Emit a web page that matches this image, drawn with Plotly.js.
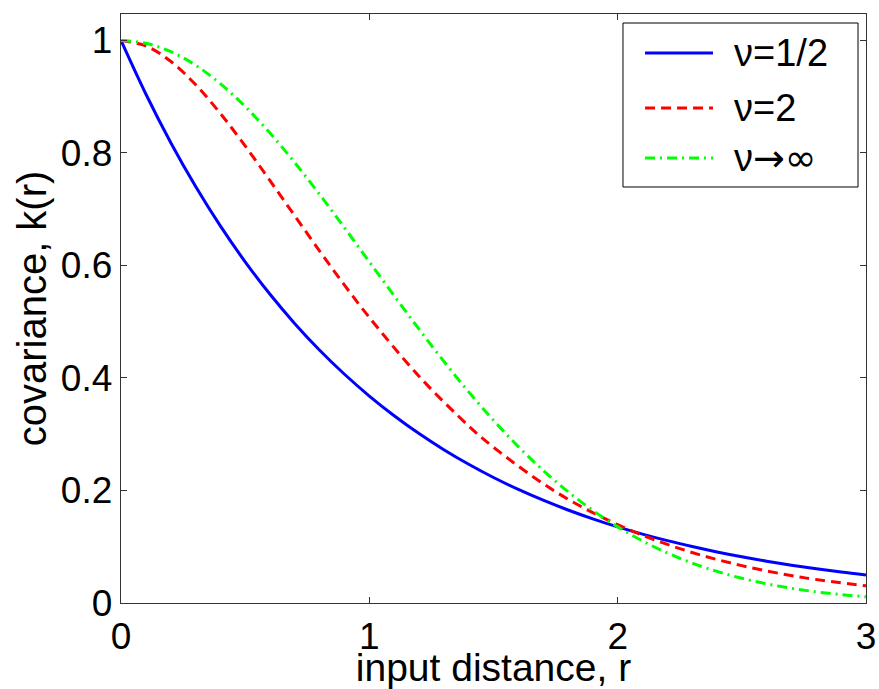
<!DOCTYPE html>
<html>
<head>
<meta charset="utf-8">
<script src="https://cdn.plot.ly/plotly-3.0.1.min.js"></script>
<style>html,body{margin:0;padding:0;background:#fff;}#chart{width:879px;height:689px;}</style>
</head>
<body>
<div id="chart"></div>
<script>
// distances r
var rFine = [0,0.1,0.2,0.3,0.4,0.5,0.6,0.7,0.8,0.9,1.0,1.1,1.2,1.3,1.4,1.5,1.6,1.7,1.8,1.9,2.0,2.1,2.2,2.3,2.4,2.5,2.6,2.7,2.8,2.9,3.0];
// nu = 1/2
var kHalf = [1,0.9048,0.8187,0.7408,0.6703,0.6065,0.5488,0.4966,0.4493,0.4066,0.3679,0.3329,0.3012,0.2725,0.2466,0.2231,0.2019,0.1827,0.1653,0.1496,0.1353,0.1225,0.1108,0.1003,0.0907,0.0821,0.0743,0.0672,0.0608,0.0550,0.0498];
// nu = 2
var rTwo = [0,0.1,0.2,0.3,0.4,0.5,0.6,0.7,0.8,0.9,1.0,1.2,1.4,1.5,1.75,2.0,2.25,2.5,2.75,3.0];
var kTwo = [1,0.9903,0.9629,0.9216,0.8703,0.8124,0.7508,0.6880,0.6256,0.5650,0.5076,0.4031,0.3148,0.2768,0.1978,0.1392,0.0967,0.0664,0.0451,0.0305];
// nu -> infinity
var kInf = [1,0.9950,0.9802,0.9560,0.9231,0.8825,0.8353,0.7827,0.7261,0.6670,0.6065,0.5461,0.4868,0.4296,0.3753,0.3247,0.2780,0.2357,0.1979,0.1645,0.1353,0.1103,0.0889,0.0710,0.0561,0.0439,0.0340,0.0261,0.0198,0.0149,0.0111];
var names = ['\u03bd=1/2','\u03bd=2','\u03bd<span style="font-family:DejaVu Sans">\u2192\u221e</span>'];
var xTicks = [0,1,2,3];
var yTicks = [0,0.2,0.4,0.6,0.8,1];
var yTickText = ['0','0.2','0.4','0.6','0.8','1'];

var FONT = 'Liberation Sans, Arial, Helvetica, sans-serif';
var styles = [
  {color:'#0000ff', width:3, dash:'solid'},
  {color:'#ff0000', width:3, dash:'10px,6px'},
  {color:'#00ff00', width:3, dash:'10px,5px,2px,5px'}
];
var xs = [rFine, rTwo, rFine];
var ys = [kHalf, kTwo, kInf];
var traces = xs.map(function(x, i){
  return {x:x, y:ys[i], name:names[i], mode:'lines', showlegend:false,
    line:Object.assign({shape:'spline'}, styles[i])};
});

// legend box drawn with shapes/annotations (paper coords)
var legBox = {x0:0.6738, x1:0.9893, y0:0.7063, y1:0.9847};
var legRows = [0.9338, 0.8404, 0.7555];
var legLineX = [0.7034, 0.7946];
var legTextX = 0.8201;
var shapes = [{type:'rect', xref:'paper', yref:'paper', x0:legBox.x0, x1:legBox.x1, y0:legBox.y0, y1:legBox.y1,
  line:{color:'#000', width:1}, fillcolor:'#fff', layer:'above'}];
var annotations = [];
legRows.forEach(function(yy, i){
  shapes.push({type:'line', xref:'paper', yref:'paper', x0:legLineX[0], x1:legLineX[1], y0:yy, y1:yy,
    line:{color:styles[i].color, width:styles[i].width, dash:styles[i].dash}, layer:'above'});
  annotations.push({xref:'paper', yref:'paper', x:legTextX, y:yy, xanchor:'left', yanchor:'middle',
    text:names[i], showarrow:false, font:{family:FONT, size:38, color:'#000'}});
});

var axisCommon = {
  showgrid:false, zeroline:false, showline:true, linecolor:'#333', linewidth:1.3,
  mirror:'allticks', ticks:'inside', ticklen:6, tickcolor:'#333', tickwidth:1,
  tickfont:{family:FONT, size:37, color:'#000'}
};
var layout = {
  width:879, height:689,
  margin:{l:121, r:13, t:14, b:86},
  paper_bgcolor:'#fff', plot_bgcolor:'#fff',
  font:{family:FONT, color:'#000'},
  showlegend:false,
  shapes:shapes, annotations:annotations,
  xaxis:Object.assign({}, axisCommon, {range:[0,3], tickvals:xTicks, ticktext:xTicks.map(String),
    title:{text:'input distance, r', font:{family:FONT, size:39, color:'#000'}, standoff:0}}),
  yaxis:Object.assign({}, axisCommon, {range:[0,1.047], tickvals:yTicks, ticktext:yTickText,
    title:{text:'covariance, k(r)', font:{family:FONT, size:40, color:'#000'}, standoff:2}})
};
Plotly.newPlot('chart', traces, layout, {displayModeBar:false, staticPlot:true});
</script>
</body>
</html>
